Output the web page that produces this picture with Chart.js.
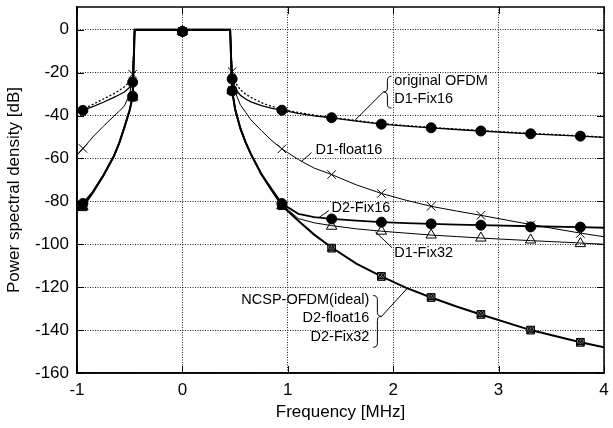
<!DOCTYPE html>
<html>
<head>
<meta charset="utf-8">
<script src="https://cdn.jsdelivr.net/npm/chart.js@4.4.1/dist/chart.umd.min.js"></script>
<style>
  html, body { margin: 0; padding: 0; background: #fff; }
  #wrap { width: 613px; height: 428px; }
</style>
</head>
<body>
<div id="wrap"><canvas id="psd"></canvas></div>
<script>
// axis ticks
const xTicks = [-1, 0, 1, 2, 3, 4];
const yTicks = [0, -20, -40, -60, -80, -100, -120, -140, -160];

// frequency points the curves are read at [MHz]
const curveFreq = [-1, -0.944, -0.85, -0.75, -0.65, -0.6, -0.55, -0.5, -0.472, -0.453,
  0.453, 0.472, 0.5, 0.55, 0.6, 0.65, 0.75, 0.85, 0.944, 1.1, 1.25, 1.416, 1.65,
  1.888, 2.124, 2.36, 2.6, 2.832, 3.304, 3.776, 4];
// frequencies where the markers sit [MHz]
const markerFreq = [-0.944, -0.472, 0, 0.472, 0.944, 1.416, 1.888, 2.36, 2.832, 3.304, 3.776];

// curves [dB]
const origOfdmCurve = [-38, -37, -34.8, -32.3, -29.8, -28.3, -26.6, -24.2, -21, 0,
  0, -20.5, -24.5, -28, -30, -31.5, -34, -35.8, -37, -38.6, -39.8, -40.8, -42.3,
  -43.7, -44.7, -45.5, -46.3, -47, -48.3, -49.5, -50];
const d1Fix16Curve = [-38.6, -37.6, -35.8, -33.8, -31.5, -30.3, -29, -26.8, -24.5, 0,
  0, -23, -27.5, -30.5, -32.3, -33.6, -35.4, -36.7, -37.5, -39, -40.1, -41.1, -42.6,
  -44, -44.9, -45.7, -46.5, -47.2, -48.5, -49.6, -50.2];
const d1Float16Curve = [-58.5, -55.5, -50, -45, -40.3, -38, -35.5, -30, -21, 0,
  0, -19.5, -29, -35, -38.5, -42, -47, -51.8, -55.5, -60.5, -64.5, -67.5, -72.3,
  -76.3, -79.5, -82.3, -84.5, -86.5, -90.8, -94.8, -96.5];
const d2Fix16Curve = [-83.5, -81, -75.5, -67.8, -58.8, -52.8, -45.3, -37.3, -31, 0,
  0, -28.4, -37, -46, -52.5, -58, -67.3, -74.5, -81, -85.8, -87.3, -88.2, -89,
  -89.7, -90.1, -90.5, -90.8, -91.1, -91.6, -92, -92.3];
const d1Fix32Curve = [-84, -82, -75.8, -67.9, -58.9, -52.9, -45.4, -37.4, -31.2, 0,
  0, -28.4, -37, -46, -52.5, -58, -67.4, -74.8, -81.5, -88, -90, -91.3, -92.8,
  -93.9, -94.8, -95.7, -96.4, -97.1, -98.3, -99.4, -100];
const idealCurve = [-84.5, -82.5, -76, -68, -59, -53, -45.5, -37.5, -31.4, 0,
  0, -28.4, -37, -46, -52.5, -58, -67.5, -75, -82, -89, -95.5, -101.5, -109,
  -115, -120.3, -124.8, -129, -132.7, -140, -145.7, -148];

// marker values [dB]
const d1Fix16Marks = [-37.6, -24.5, -0.8, -23, -37.5, -41, -44, -45.7, -47.2, -48.5, -49.6];
const d1Float16Marks = [-55.3, -20.7, -0.8, -19.5, -55.5, -67.5, -76.3, -82.3, -86.5, -91, -95];
const d2Fix16Marks = [-81, -31, -0.8, -28.5, -81, -88.2, -89.7, -90.5, -91.1, -91.9, -92];
const d1Fix32Marks = [-82.5, -31.4, -0.8, -28.4, -82, -91.6, -93.9, -95.7, -97.1, -98, -99.7];
const idealMarks = [-82.5, -31.4, -0.8, -28.4, -82, -101.8, -115, -124.8, -132.7, -140, -145.7];
const d2Float16Marks = [-82.5, -31.4, -0.8, -28.4, -82, -101.8, -115, -124.8, -132.7, -140, -145.7];
const d2Fix32Marks = [-82.5, -31.4, -0.8, -28.4, -82, -101.8, -115, -124.8, -132.7, -140, -145.7];

const pts = (xs, ys) => xs.map((x, i) => ({ x: x, y: ys[i] }));

function curve(label, ys, width, order, dash) {
    return {
        label: label, data: pts(curveFreq, ys), showLine: true, pointRadius: 0,
        borderColor: '#000', borderWidth: width, borderDash: dash || [], order: order
    };
}

function marks(label, ys, style, radius, fill, order) {
    return {
        label: label, data: pts(markerFreq, ys), showLine: false, pointStyle: style,
        pointRadius: radius, pointBackgroundColor: fill, pointBorderColor: '#000',
        pointBorderWidth: 1, order: order
    };
}

// labels written on the plot, in data units
const notes = [
    { lines: ['original OFDM', 'D1-Fix16'], x: 2.01, y: [-23.7, -32.2], align: 'left',
      brace: [1.983, 1.907, -21.7, -36.5, -29], leader: [1.907, -29, 1.641, -42] },
    { lines: ['D1-float16'], x: 1.262, y: [-56.1], align: 'left', leader: [1.225, -57.3, 1.13, -61.4] },
    { lines: ['D2-Fix16'], x: 1.414, y: [-83.1], align: 'left', leader: [1.389, -84.3, 1.294, -87.6] },
    { lines: ['D1-Fix32'], x: 2.01, y: [-104.2], align: 'left', leader: [1.989, -101.6, 1.83, -94.2] },
    { lines: ['NCSP-OFDM(ideal)', 'D2-float16', 'D2-Fix32'], x: 1.774, y: [-125.8, -134.5, -143.3], align: 'right',
      brace: [1.81, 1.89, -123.9, -148, -133.6], leader: [1.89, -133.6, 2.132, -120.6] }
];

function brace(ctx, xb, xt, yt, yb, ym) {
    const xm = (xb + xt) / 2;
    ctx.beginPath();
    ctx.moveTo(xb, yt);
    ctx.quadraticCurveTo(xm, yt, xm, yt + 4);
    ctx.lineTo(xm, ym - 4);
    ctx.quadraticCurveTo(xm, ym, xt, ym);
    ctx.quadraticCurveTo(xm, ym, xm, ym + 4);
    ctx.lineTo(xm, yb - 4);
    ctx.quadraticCurveTo(xm, yb, xb, yb);
    ctx.stroke();
}

const frame = {
    id: 'frame',
    afterDatasetsDraw(chart) {
        const { ctx, chartArea: a, scales: { x, y } } = chart;
        ctx.save();
        ctx.strokeStyle = '#000';
        ctx.lineWidth = 1.5;
        ctx.strokeRect(a.left, a.top, a.right - a.left, a.bottom - a.top);

        // gnuplot style inward ticks
        ctx.lineWidth = 1;
        ctx.beginPath();
        xTicks.forEach(v => {
            const px = Math.round(x.getPixelForValue(v)) + 0.5;
            ctx.moveTo(px, a.bottom); ctx.lineTo(px, a.bottom - 7);
            ctx.moveTo(px, a.top); ctx.lineTo(px, a.top + 7);
        });
        yTicks.forEach(v => {
            const py = Math.round(y.getPixelForValue(v)) + 0.5;
            ctx.moveTo(a.left, py); ctx.lineTo(a.left + 7, py);
            ctx.moveTo(a.right, py); ctx.lineTo(a.right - 7, py);
        });
        ctx.stroke();

        // notes
        ctx.font = '14.5px "Liberation Sans", Arial, sans-serif';
        ctx.fillStyle = '#000';
        ctx.textBaseline = 'middle';
        ctx.lineWidth = 1;
        notes.forEach(n => {
            ctx.textAlign = n.align;
            n.lines.forEach((t, i) => ctx.fillText(t, x.getPixelForValue(n.x), y.getPixelForValue(n.y[i])));
            if (n.brace) {
                const b = n.brace;
                brace(ctx, x.getPixelForValue(b[0]), x.getPixelForValue(b[1]),
                    y.getPixelForValue(b[2]), y.getPixelForValue(b[3]), y.getPixelForValue(b[4]));
            }
            const l = n.leader;
            ctx.beginPath();
            ctx.moveTo(x.getPixelForValue(l[0]), y.getPixelForValue(l[1]));
            ctx.lineTo(x.getPixelForValue(l[2]), y.getPixelForValue(l[3]));
            ctx.stroke();
        });
        ctx.restore();
    }
};

Chart.defaults.font.family = '"Liberation Sans", Arial, sans-serif';
Chart.defaults.color = '#000';

new Chart(document.getElementById('psd'), {
    type: 'scatter',
    data: {
        datasets: [
            marks('D1-Fix16', d1Fix16Marks, 'circle', 5, '#000', 1),
            marks('D2-Fix16', d2Fix16Marks, 'circle', 5, '#000', 1),
            marks('D1-float16', d1Float16Marks, 'crossRot', 6, '#000', 2),
            marks('D1-Fix32', d1Fix32Marks, 'triangle', 6, 'rgba(0,0,0,0)', 3),
            marks('D2-Fix32', d2Fix32Marks, 'triangle', 4, 'rgba(0,0,0,0)', 4),
            marks('D2-float16', d2Float16Marks, 'crossRot', 5, '#000', 5),
            marks('NCSP-OFDM(ideal)', idealMarks, 'rect', 5.5,
                c => Math.abs(c.raw.x) < 0.6 ? '#111' : '#777', 6),
            curve('NCSP-OFDM(ideal)', idealCurve, 2, 10),
            curve('D2-Fix16', d2Fix16Curve, 1.8, 11),
            curve('D1-Fix16', d1Fix16Curve, 1.3, 11),
            curve('original OFDM', origOfdmCurve, 1.3, 12, [2, 2]),
            curve('D1-float16', d1Float16Curve, 1, 13),
            curve('D1-Fix32', d1Fix32Curve, 1, 13)
        ]
    },
    options: {
        responsive: true,
        maintainAspectRatio: false,
        animation: false,
        layout: { padding: { top: 4, right: 9, left: 0, bottom: 0 } },
        plugins: {
            legend: { display: false },
            tooltip: { enabled: false }
        },
        scales: {
            x: {
                type: 'linear', min: -1, max: 4,
                afterBuildTicks: s => { s.ticks = xTicks.map(v => ({ value: v })); },
                afterFit: s => { s.height = 55; s.paddingLeft = 0; s.paddingRight = 0; },
                ticks: { font: { size: 17 }, color: '#000', padding: 7 },
                grid: { color: '#222', lineWidth: 1, drawTicks: false },
                border: { display: true, color: '#000', width: 1.5, dash: [1, 1.5] },
                title: { display: true, text: 'Frequency [MHz]', font: { size: 17 }, color: '#000',
                         padding: { top: 4, bottom: 5 } }
            },
            y: {
                type: 'linear', min: -160, max: 10.6,
                afterBuildTicks: s => { s.ticks = yTicks.map(v => ({ value: v })); },
                afterFit: s => { s.width = 77; s.paddingTop = 0; s.paddingBottom = 0; },
                ticks: { font: { size: 17 }, color: '#000', padding: 8 },
                grid: { color: '#222', lineWidth: 1, drawTicks: false },
                border: { display: true, color: '#000', width: 1.5, dash: [1, 1.5] },
                title: { display: true, text: 'Power spectral density [dB]', font: { size: 17 }, color: '#000',
                         padding: { top: 4, bottom: 4 } }
            }
        }
    },
    plugins: [frame]
});
</script>
</body>
</html>
